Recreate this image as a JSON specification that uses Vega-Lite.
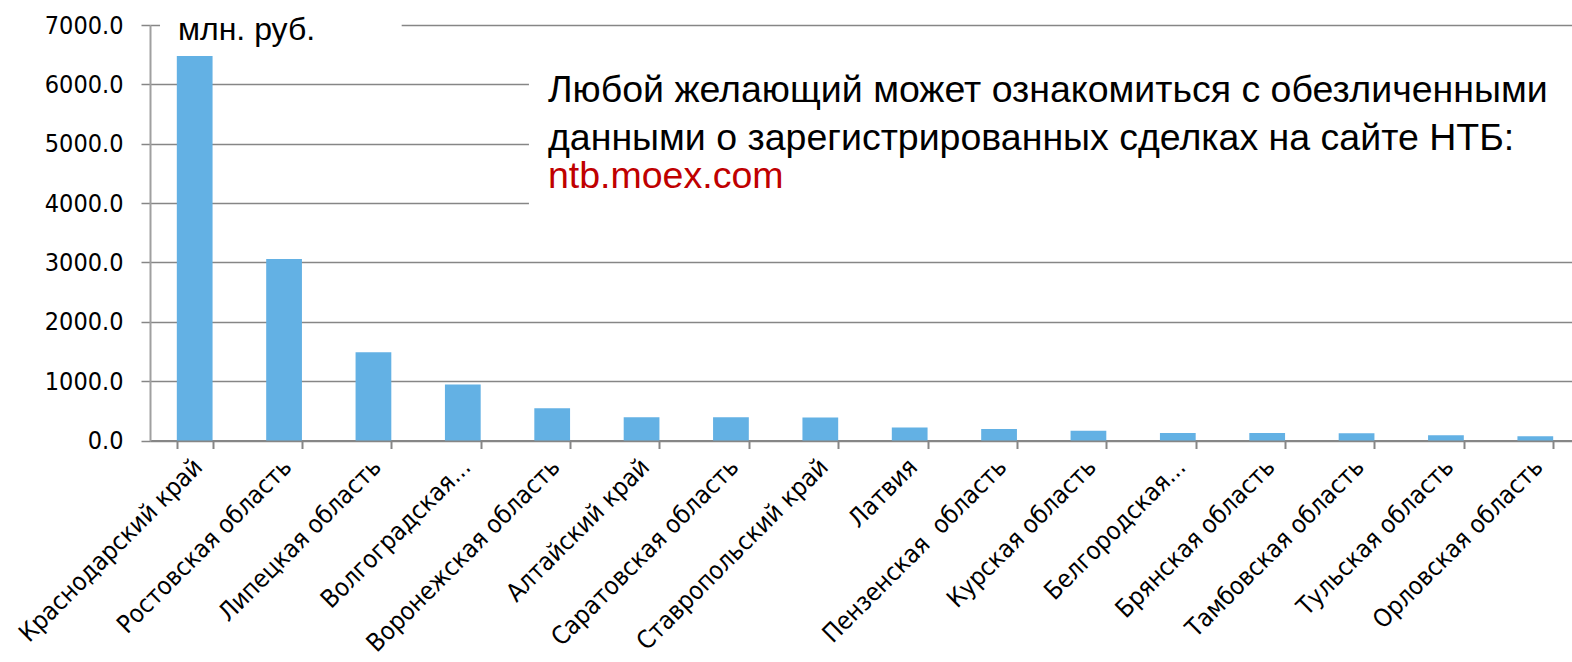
{
  "$schema": "https://vega.github.io/schema/vega-lite/v6.json",
  "width": 1430,
  "height": 415.5,
  "autosize": {"type": "none"},
  "padding": {"left": 150, "top": 25, "right": -8, "bottom": 221.5},
  "background": "white",
  "config": {"view": {"stroke": null}},
  "datasets": {
    "regions": [
      {"region": "Краснодарский край", "value": 6477},
      {"region": "Ростовская область", "value": 3058},
      {"region": "Липецкая область", "value": 1485},
      {"region": "Волгоградская...", "value": 942},
      {"region": "Воронежская область", "value": 545},
      {"region": "Алтайский край", "value": 392},
      {"region": "Саратовская область", "value": 391},
      {"region": "Ставропольский край", "value": 386},
      {"region": "Латвия", "value": 218},
      {"region": "Пензенская\u00a0 область", "value": 192},
      {"region": "Курская область", "value": 165},
      {"region": "Белгородская...", "value": 126},
      {"region": "Брянская область", "value": 125},
      {"region": "Тамбовская область", "value": 124},
      {"region": "Тульская область", "value": 88},
      {"region": "Орловская область", "value": 71}
    ],
    "one": [{}]
  },
  "layer": [
    {
      "data": {"name": "regions"},
      "mark": {"type": "bar", "color": "#63B1E4"},
      "encoding": {
        "x": {
          "field": "region", "type": "nominal", "sort": null,
          "scale": {"paddingInner": 0.6, "paddingOuter": 0.3},
          "axis": {
            "title": null, "labelAngle": -45, "labelAlign": "right", "labelBaseline": "middle",
            "labelFont": "DejaVu Sans Condensed, DejaVu Sans", "labelFontSize": 25, "labelColor": "#000000",
            "labelPadding": 14, "labelOffset": 3, "labelLimit": 400,
            "tickBand": "extent", "tickSize": 8, "tickColor": "#868686", "tickWidth": 2,
            "domainColor": "#868686", "domainWidth": 2, "grid": false
          }
        },
        "y": {
          "field": "value", "type": "quantitative",
          "scale": {"domain": [0, 7000], "nice": false, "zero": true},
          "axis": {
            "title": null, "values": [0, 1000, 2000, 3000, 4000, 5000, 6000, 7000], "format": ".1f",
            "labelFont": "DejaVu Sans Condensed, DejaVu Sans", "labelFontSize": 25, "labelColor": "#000000",
            "labelPadding": 18, "tickSize": 9, "tickColor": "#868686", "tickWidth": 1.5,
            "domainColor": "#A0A0A0", "domainWidth": 2,
            "grid": true, "gridColor": "#868686", "gridWidth": 1.5
          }
        }
      }
    },
    {
      "data": {"name": "one"},
      "mark": {"type": "rect", "color": "white"},
      "encoding": {
        "x": {"datum": 0.007, "type": "quantitative", "scale": {"domain": [0, 1]}, "axis": null},
        "x2": {"datum": 0.176},
        "y": {"datum": 6620, "type": "quantitative", "scale": {"domain": [0, 7000], "nice": false}},
        "y2": {"datum": 7150}
      }
    },
    {
      "data": {"name": "one"},
      "mark": {"type": "rect", "color": "white"},
      "encoding": {
        "x": {"datum": 0.265, "type": "quantitative", "scale": {"domain": [0, 1]}, "axis": null},
        "x2": {"datum": 1.0},
        "y": {"datum": 3500, "type": "quantitative", "scale": {"domain": [0, 7000], "nice": false}},
        "y2": {"datum": 6550}
      }
    },
    {
      "data": {"values": [{"label": "млн. руб."}]},
      "mark": {"type": "text", "align": "left", "baseline": "alphabetic", "font": "Liberation Sans", "fontSize": 32, "color": "#000000"},
      "encoding": {
        "x": {"datum": 0.0196, "type": "quantitative", "scale": {"domain": [0, 1]}, "axis": null},
        "y": {"datum": 6754, "type": "quantitative", "scale": {"domain": [0, 7000], "nice": false}},
        "text": {"field": "label"}
      }
    },
    {
      "data": {"values": [{"label": "Любой желающий может ознакомиться с обезличенными"}]},
      "mark": {"type": "text", "align": "left", "baseline": "alphabetic", "font": "Liberation Sans", "fontSize": 37.5, "color": "#000000"},
      "encoding": {
        "x": {"datum": 0.2783, "type": "quantitative", "scale": {"domain": [0, 1]}, "axis": null},
        "y": {"datum": 5708, "type": "quantitative", "scale": {"domain": [0, 7000], "nice": false}},
        "text": {"field": "label"}
      }
    },
    {
      "data": {"values": [{"label": "данными о зарегистрированных сделках на сайте НТБ:"}]},
      "mark": {"type": "text", "align": "left", "baseline": "alphabetic", "font": "Liberation Sans", "fontSize": 37.5, "color": "#000000"},
      "encoding": {
        "x": {"datum": 0.2783, "type": "quantitative", "scale": {"domain": [0, 1]}, "axis": null},
        "y": {"datum": 4899, "type": "quantitative", "scale": {"domain": [0, 7000], "nice": false}},
        "text": {"field": "label"}
      }
    },
    {
      "data": {"values": [{"label": "ntb.moex.com"}]},
      "mark": {"type": "text", "align": "left", "baseline": "alphabetic", "font": "Liberation Sans", "fontSize": 37.5, "color": "#C00000"},
      "encoding": {
        "x": {"datum": 0.2783, "type": "quantitative", "scale": {"domain": [0, 1]}, "axis": null},
        "y": {"datum": 4258, "type": "quantitative", "scale": {"domain": [0, 7000], "nice": false}},
        "text": {"field": "label"}
      }
    }
  ],
  "resolve": {"scale": {"x": "independent"}, "axis": {"x": "independent"}}
}
